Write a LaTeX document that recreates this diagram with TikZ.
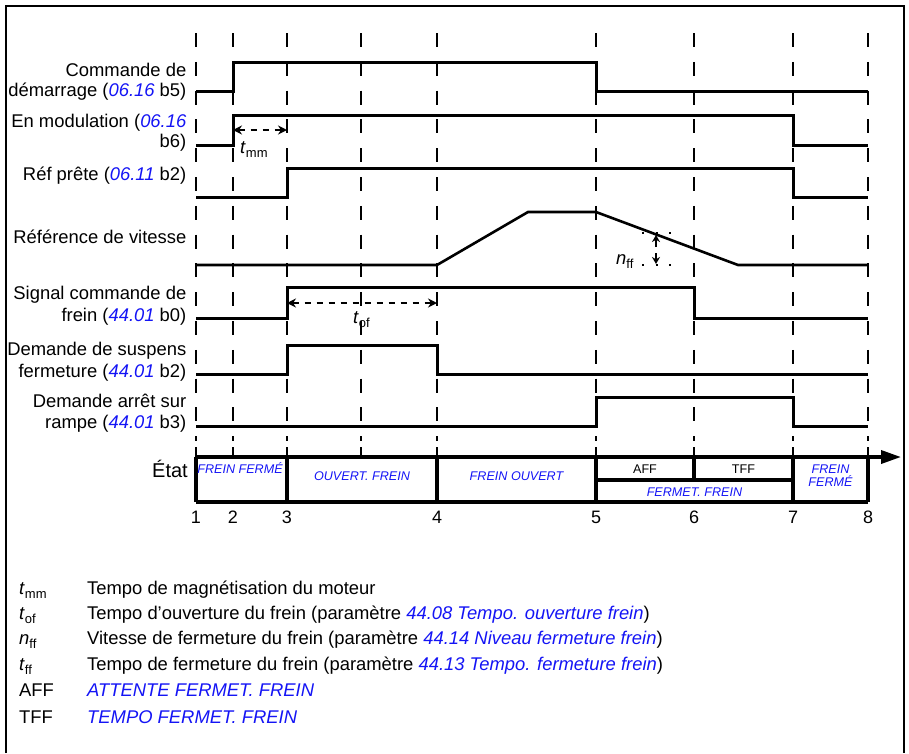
\documentclass[tikz,border=0pt]{standalone}
\usepackage{fontspec}
\setmainfont{Liberation Sans}
\usetikzlibrary{arrows.meta}
\definecolor{lnk}{RGB}{20,20,245}
\newcommand\lk[1]{{\color{lnk}\itshape #1}}
\newcommand\sbs[1]{\raisebox{-0.45ex}{\fontsize{13}{13}\selectfont #1}}
\begin{document}
\begin{tikzpicture}[x=1pt,y=-1pt,
  sig/.style={line width=3pt},
  ramp/.style={line width=2.6pt},
  gridln/.style={line width=2.6pt, dash pattern=on 14pt off 14.8pt},
  lbl/.style={anchor=base east, inner sep=0pt, font=\fontsize{18.4}{20}\selectfont},
  lgd/.style={anchor=base west, inner sep=0pt, font=\fontsize{18.4}{20}\selectfont},
  st/.style={anchor=base, inner sep=0pt, font=\fontsize{12.6}{13}\selectfont\itshape, text=lnk},
  stb/.style={anchor=base, inner sep=0pt, font=\fontsize{12.6}{13}\selectfont},
  num/.style={anchor=base, inner sep=0pt, font=\fontsize{18}{20}\selectfont},
  bar/.style={line width=3.5pt},
  dimarr/.style={line width=2pt, dash pattern=on 6pt off 6pt,
    {Stealth[length=9pt,width=9pt]}-{Stealth[length=9pt,width=9pt]}},
  narr/.style={line width=1.8pt, -{Stealth[length=7pt,width=8pt]}},
  dots/.style={line width=2pt, dash pattern=on 2pt off 11.5pt}]
\useasboundingbox (0,0) rectangle (909,753);
% frame
\draw[line width=1.5pt] (6,753) -- (6,6) -- (904,6) -- (904,753);
% grid lines and ticks
\foreach \x in {196,233,287,361,437,596,694,793,868}{
  \draw[gridln] (\x,33) -- (\x,441);
  \draw[line width=2.6pt] (\x,447) -- (\x,457);
}
% signals
\draw[sig] (196,91) -- (233,91) -- (233,62) -- (596,62) -- (596,91) -- (868,91);
\draw[sig] (196,145) -- (233,145) -- (233,115) -- (793,115) -- (793,145) -- (868,145);
\draw[sig] (196,197) -- (287,197) -- (287,168) -- (793,168) -- (793,197) -- (868,197);
\draw[ramp] (196,265) -- (437,265) -- (528,212) -- (596,212) -- (738,265) -- (868,265);
\draw[sig] (196,318) -- (287,318) -- (287,287) -- (694,287) -- (694,318) -- (868,318);
\draw[sig] (196,374) -- (287,374) -- (287,345) -- (437,345) -- (437,374) -- (868,374);
\draw[sig] (196,426) -- (596,426) -- (596,397) -- (793,397) -- (793,426) -- (868,426);
% dimension arrows
\coordinate (tmA) at (233,130); \coordinate (tmB) at (287,130);
\draw[dimarr] (tmA) -- (tmB);
\node[lgd] (tmm) at (240,153) {\textit{t}\sbs{mm}};
\coordinate (toA) at (287,303); \coordinate (toB) at (437,303);
\draw[dimarr] (toA) -- (toB);
\node[lgd] (tof) at (353,323) {\textit{t}\sbs{of}};
\draw[dots] (642,233) -- (672,233);
\draw[dots] (642,265) -- (672,265);
\coordinate (nA) at (656,247); \coordinate (nAt) at (656,235);
\coordinate (nB) at (656,253); \coordinate (nBt) at (656,264);
\draw[narr] (nA) -- (nAt);
\draw[narr] (nB) -- (nBt);
\node[lgd] (nff) at (616,264) {\textit{n}\sbs{ff}};
% labels
\node[lbl] (l1a) at (186.5,76) {Commande de};
\node[lbl] (l1b) at (186.5,96) {démarrage (\lk{06.16} b5)};
\node[lbl] (l2a) at (186.5,127) {En modulation (\lk{06.16}};
\node[lbl] (l2b) at (186.5,147) {b6)};
\node[lbl] (l3) at (186.5,180) {Réf prête (\lk{06.11} b2)};
\node[lbl] (l4) at (186.5,243) {Référence de vitesse};
\node[lbl] (l5a) at (186.5,299.5) {Signal commande de};
\node[lbl] (l5b) at (186.5,321) {frein (\lk{44.01} b0)};
\node[lbl] (l6a) at (186.5,355) {Demande de suspens};
\node[lbl] (l6b) at (186.5,377) {fermeture (\lk{44.01} b2)};
\node[lbl] (l7a) at (186.5,407) {Demande arrêt sur};
\node[lbl] (l7b) at (186.5,428.5) {rampe (\lk{44.01} b3)};
% state bar
\draw[bar] (196,457) -- (868,457);
\draw[bar] (196,502) -- (868,502);
\draw[bar] (196,457) -- (196,502);
\draw[bar] (868,457) -- (868,502);
\foreach \x in {287,437,596,793} \draw[bar] (\x,457) -- (\x,502);
\draw[bar] (694,457) -- (694,480);
\draw[bar] (596,480) -- (793,480);
\coordinate (arS) at (868,457); \coordinate (arE) at (901,457);
\draw[bar, -{Triangle[length=20pt,width=13pt]}] (arS) -- (arE);
\node[anchor=base east, inner sep=0pt, font=\fontsize{20}{22}\selectfont] (etat) at (188,477) {État};
\node[st] (s1) at (240,473) {FREIN FERMÉ};
\node[st] (s2) at (362,480.5) {OUVERT. FREIN};
\node[st] (s3) at (516.5,480.5) {FREIN OUVERT};
\node[stb] (s4) at (645,473) {AFF};
\node[stb] (s5) at (743.5,473) {TFF};
\node[st] (s6) at (694.5,496.5) {FERMET. FREIN};
\node[st] (s7a) at (830.5,473) {FREIN};
\node[st] (s7b) at (830.5,486.5) {FERMÉ};
\foreach \x/\n in {196/1,233/2,287/3,437/4,596/5,694/6,793/7,868/8}
  \node[num] (n\n) at (\x,523) {\n};
% legend
\node[lgd] (g1a) at (19,594) {\textit{t}\sbs{mm}};
\node[lgd] (g1b) at (87,594) {Tempo de magnétisation du moteur};
\node[lgd] (g2a) at (19,619) {\textit{t}\sbs{of}};
\node[lgd] (g2b) at (87,619) {Tempo d’ouverture du frein (paramètre \lk{44.08 Tempo. ouverture frein})};
\node[lgd] (g3a) at (19,644) {\textit{n}\sbs{ff}};
\node[lgd] (g3b) at (87,644) {Vitesse de fermeture du frein (paramètre \lk{44.14 Niveau fermeture frein})};
\node[lgd] (g4a) at (19,670) {\textit{t}\sbs{ff}};
\node[lgd] (g4b) at (87,670) {Tempo de fermeture du frein (paramètre \lk{44.13 Tempo. fermeture frein})};
\node[lgd] (g5a) at (19,696) {AFF};
\node[lgd] (g5b) at (87,696) {\lk{ATTENTE FERMET. FREIN}};
\node[lgd] (g6a) at (19,723) {TFF};
\node[lgd] (g6b) at (87,723) {\lk{TEMPO FERMET. FREIN}};
\end{tikzpicture}
\end{document}
